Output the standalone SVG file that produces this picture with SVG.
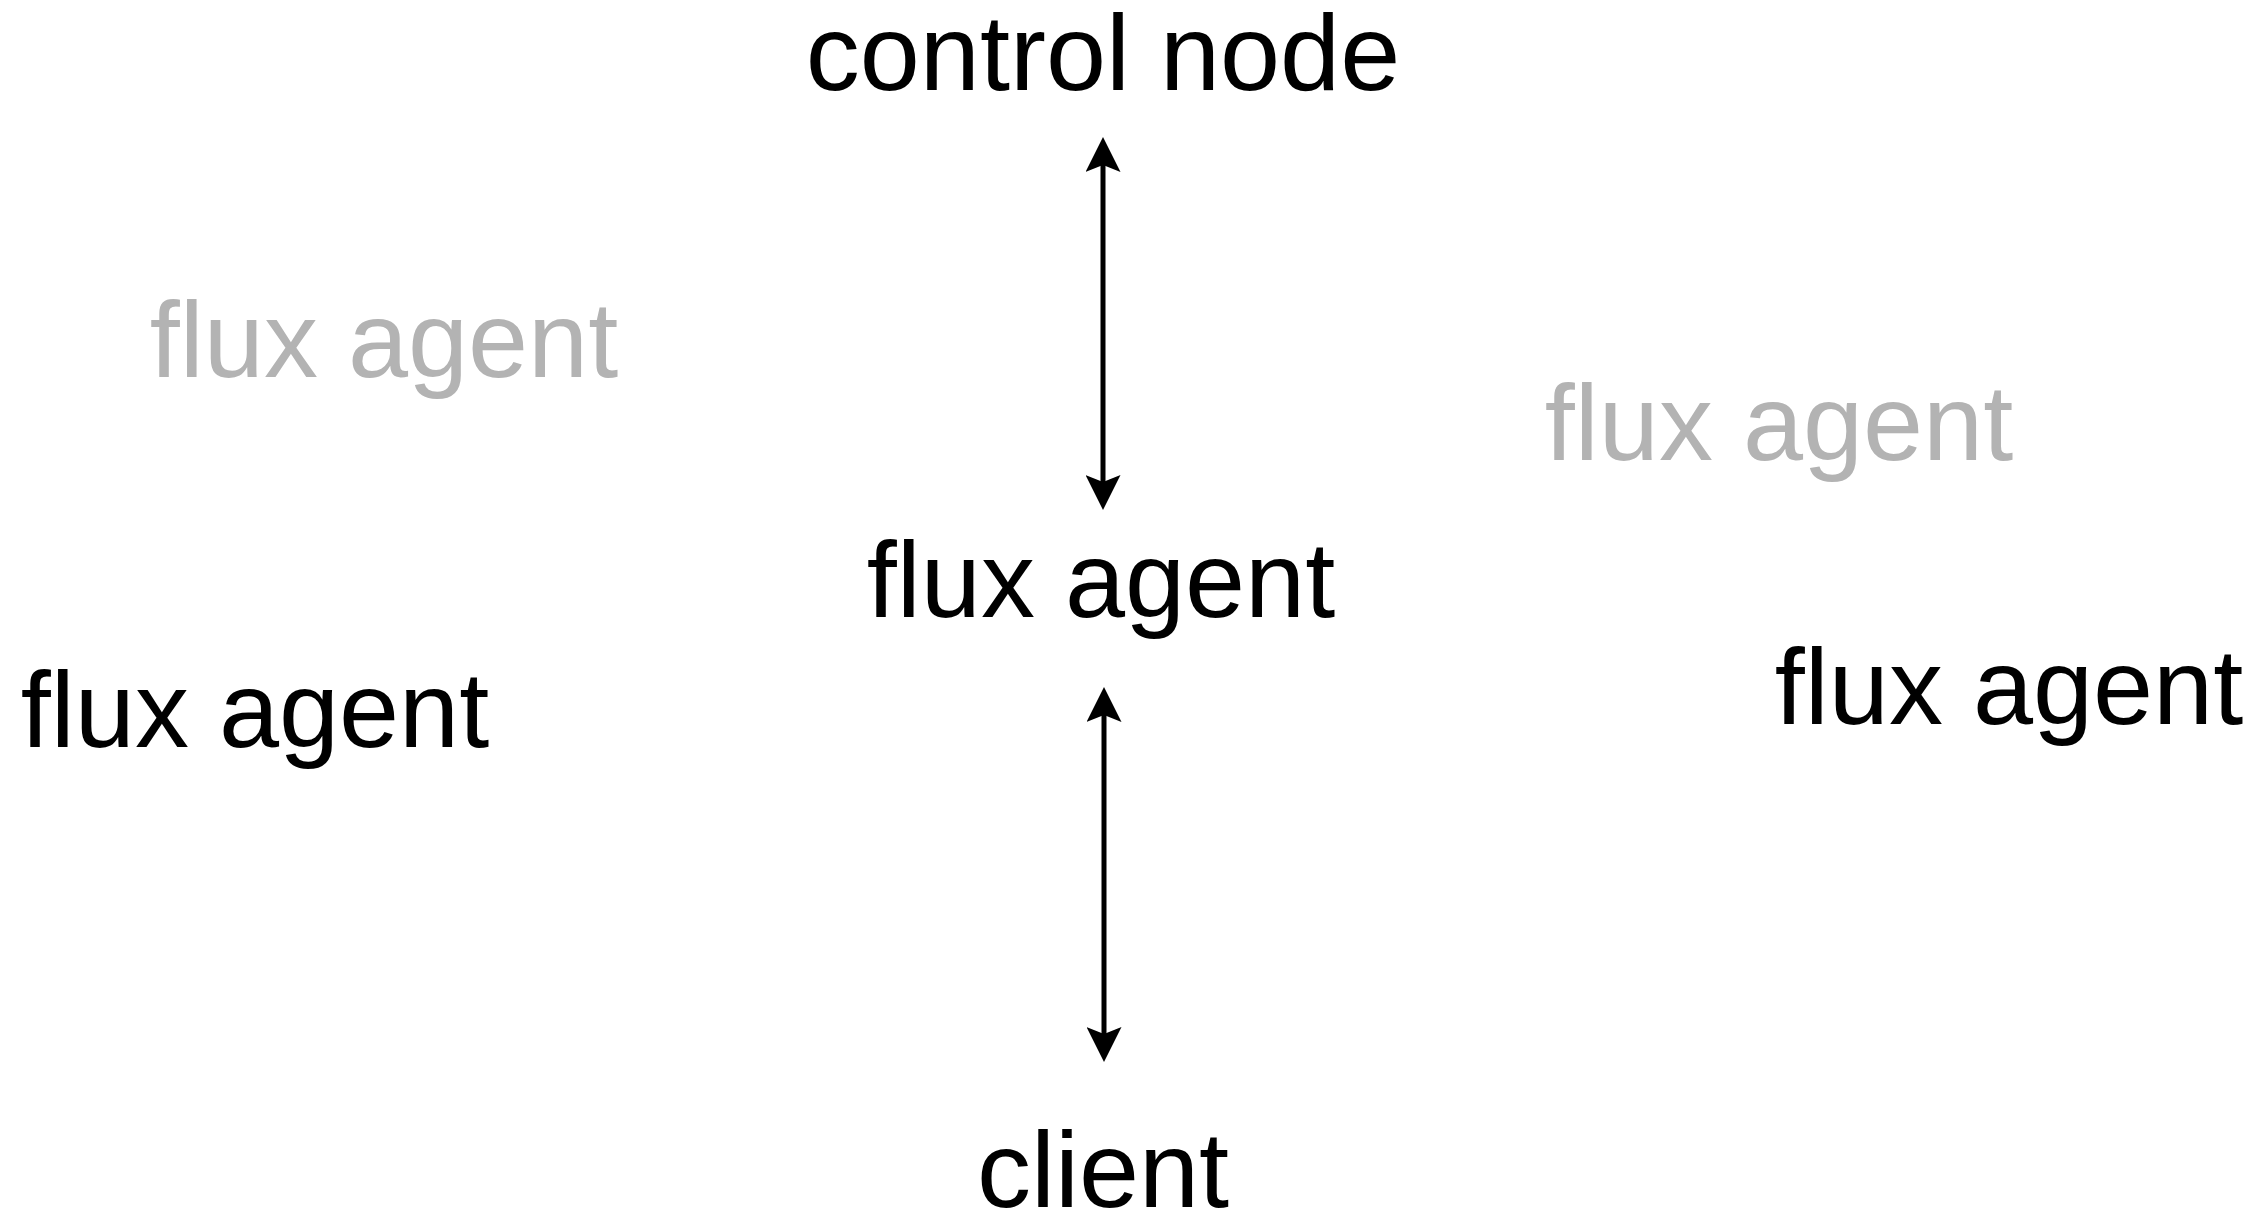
<svg xmlns="http://www.w3.org/2000/svg" width="2266" height="1213" viewBox="0 0 2266 1213">
  <style>
    .lbl { font-family: "Liberation Sans", Arial, Helvetica, sans-serif; font-size: 108px; text-anchor: middle; fill: #000000; }
    .dim { fill: #b3b3b3; }
    .conn { stroke: #000000; stroke-width: 5; fill: none; }
  </style>
  <defs>
    <marker id="ah" viewBox="0 0 35 35" refX="7" refY="17.5" markerWidth="35" markerHeight="35" markerUnits="userSpaceOnUse" orient="auto-start-reverse">
      <path d="M0,0 L35,17.5 L0,35 L7,17.5 Z" fill="#000000"/>
    </marker>
  </defs>
  <rect width="2266" height="1213" fill="#ffffff"/>
  <g id="connectors">
    <line class="conn" x1="1103" y1="165" x2="1103" y2="482" marker-start="url(#ah)" marker-end="url(#ah)"/>
    <line class="conn" x1="1104" y1="715" x2="1104" y2="1034" marker-start="url(#ah)" marker-end="url(#ah)"/>
  </g>
  <g id="control-node"><text class="lbl" x="1103" y="90">control node</text></g>
  <g id="agent-gray-left"><text class="lbl dim" x="384" y="377">flux agent</text></g>
  <g id="agent-gray-right"><text class="lbl dim" x="1779" y="460">flux agent</text></g>
  <g id="agent-center"><text class="lbl" x="1101" y="617">flux agent</text></g>
  <g id="agent-left"><text class="lbl" x="255" y="747">flux agent</text></g>
  <g id="agent-right"><text class="lbl" x="2009" y="724">flux agent</text></g>
  <g id="client"><text class="lbl" x="1103" y="1207">client</text></g>
</svg>
